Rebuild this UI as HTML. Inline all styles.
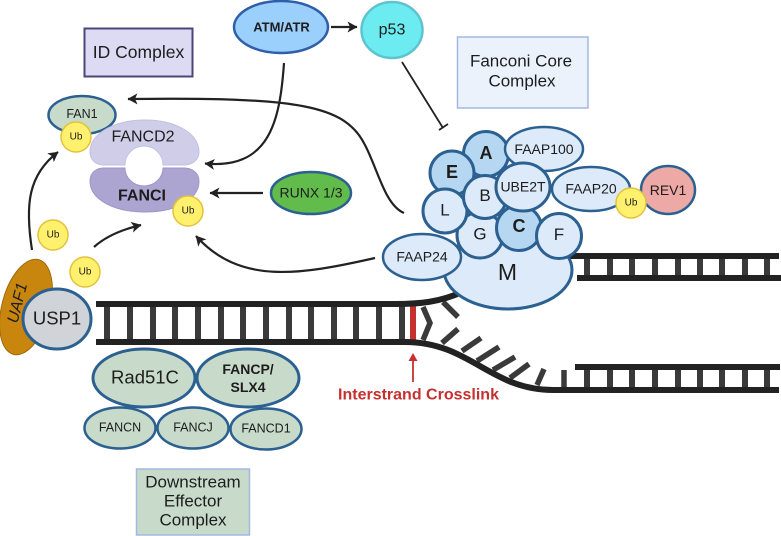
<!DOCTYPE html>
<html><head><meta charset="utf-8"><style>
html,body{margin:0;padding:0;background:#fff}
svg{display:block}
text{font-family:"Liberation Sans",sans-serif;fill:#1d1d1d;text-anchor:middle;dominant-baseline:central}
.b{font-weight:bold}
.s{fill:none;stroke:#222;stroke-width:2.2}
.c{stroke:#2b6090;stroke-width:2.5;fill:#dceafa}
.g{stroke:#2b6090;stroke-width:2.5;fill:#c8dbcb}
.u{fill:#fff06e;stroke:#e2c23c;stroke-width:1.5}
.r{fill:#3a3a3a}
</style></head><body>
<svg width="781" height="536" viewBox="0 0 781 536" xmlns="http://www.w3.org/2000/svg">
<defs><marker id="a" markerUnits="userSpaceOnUse" markerWidth="11" markerHeight="12" refX="9.500" refY="5.500" orient="auto"><path d="M10,5.500 L0,0 L2.500,5.500 L0,11 Z" fill="#222"/></marker></defs>

<!-- boxes -->
<rect x="84.500" y="28.500" width="108" height="48" fill="#dddaf3" stroke="#4b4579" stroke-width="2"/>
<text x="138.500" y="52" font-size="17.500">ID Complex</text>
<rect x="457.500" y="37" width="130.500" height="71" fill="#ebf2fc" stroke="#a3b8e0" stroke-width="1.500"/>
<text x="521" y="61" font-size="17">Fanconi Core</text>
<text x="522" y="81" font-size="17">Complex</text>
<rect x="136.500" y="469" width="113" height="66" fill="#c8dbcb" stroke="#a3b8e0" stroke-width="1.500"/>
<text x="193" y="482" font-size="17">Downstream</text>
<text x="193" y="501" font-size="17">Effector</text>
<text x="193" y="520" font-size="17">Complex</text>

<!-- DNA left -->
<g class="r">
<rect x="104" y="304" width="6" height="38"/><rect x="127" y="304" width="6" height="38"/><rect x="150" y="304" width="6" height="38"/><rect x="172" y="304" width="6" height="38"/><rect x="195" y="304" width="6" height="38"/><rect x="218" y="304" width="6" height="38"/><rect x="240" y="304" width="6" height="38"/><rect x="263" y="304" width="6" height="38"/><rect x="286" y="304" width="6" height="38"/><rect x="308" y="304" width="6" height="38"/><rect x="331" y="304" width="6" height="38"/><rect x="353" y="304" width="6" height="38"/><rect x="376" y="304" width="6" height="38"/><rect x="399" y="304" width="6" height="38"/>
</g>
<rect x="410" y="306" width="6" height="36" fill="#c5312f"/>
<g fill="none" stroke="#3a3a3a" stroke-width="5.500">
<path d="M423,307 L430,323 L423,340"/>
<path d="M443,302 L458,317"/>
<path d="M442,343 L458,329"/>
<path d="M462,351 L481,338"/>
<path d="M477,361 L499,347"/>
<path d="M493,370 L515,357"/>
<path d="M510,378 L529,364"/>
<path d="M537,385 L544,369"/>
<path d="M564,370 L564,390"/>
</g>
<g fill="#3a3a3a">
<rect x="584" y="256" width="6" height="22"/><rect x="607" y="256" width="6" height="22"/><rect x="629" y="256" width="6" height="22"/><rect x="652" y="256" width="6" height="22"/><rect x="675" y="256" width="6" height="22"/><rect x="697" y="256" width="6" height="22"/><rect x="719" y="256" width="6" height="22"/><rect x="742" y="256" width="6" height="22"/><rect x="764" y="256" width="6" height="22"/>
<rect x="584" y="367" width="6" height="23"/><rect x="607" y="367" width="6" height="23"/><rect x="629" y="367" width="6" height="23"/><rect x="652" y="367" width="6" height="23"/><rect x="675" y="367" width="6" height="23"/><rect x="697" y="367" width="6" height="23"/><rect x="719" y="367" width="6" height="23"/><rect x="742" y="367" width="6" height="23"/><rect x="764" y="367" width="6" height="23"/>
</g>
<g fill="none" stroke="#222" stroke-width="6">
<path d="M96,304 L395,304 C420,304 440,302 462,292"/>
<path d="M96,342 L405,342 C470,342 490,390 553,390 L779,390"/>
<path d="M560,256 L779,256"/>
<path d="M577,278 L781,278"/>
<path d="M575,367 L780,367"/>
</g>

<!-- red label -->
<path d="M413,382 L413,358" stroke="#c5312f" stroke-width="1.800" fill="none"/>
<path d="M413,353 L417.500,361 L408.500,361 Z" fill="#c5312f"/>
<text x="418.500" y="395" font-size="16" class="b" style="fill:#c5312f">Interstrand Crosslink</text>

<!-- connectors -->
<path class="s" d="M404,213 C385,205 378,170 365,145 C345,105 300,97 128,99" marker-end="url(#a)"/>
<path class="s" d="M284,63 C280,120 270,170 205,163.500" marker-end="url(#a)"/>
<path class="s" d="M263,193 L210,193" marker-end="url(#a)"/>
<path class="s" d="M375,258 C300,275 240,285 196,236" marker-end="url(#a)"/>
<path class="s" d="M32,250 C25,205 28,175 58,152" marker-end="url(#a)"/>
<path class="s" d="M94,247 C105,237 120,230 141,225" marker-end="url(#a)"/>
<path class="s" d="M331,27 L357,27" marker-end="url(#a)"/>
<path d="M402,62 L443,128 M439,130 L448,124" fill="none" stroke="#222" stroke-width="1.800"/>

<!-- top nodes -->
<ellipse cx="281" cy="27" rx="47" ry="26" fill="#9bcffc" stroke="#2f5fa8" stroke-width="2.500"/>
<text x="281.500" y="27" font-size="13" class="b">ATM/ATR</text>
<ellipse cx="392" cy="30" rx="30.500" ry="28" fill="#6cebf0" stroke="#5fc2cf" stroke-width="2.500"/>
<text x="392" y="30" font-size="16">p53</text>

<!-- ID complex -->
<ellipse cx="82" cy="115" rx="33.500" ry="19" class="g"/>
<text x="82" y="114" font-size="12.500">FAN1</text>
<path d="M90,152 C90,133 115,120 145,120 C175,120 199,133 199,152 C199,160 192,165 184,165 L163,165 A19,19 0 0 0 125,165 L104,165 C96,165 90,160 90,152 Z" fill="#d0cde9" stroke="#c3bfe2" stroke-width="1"/>
<path d="M90,181 C90,200 115,212 145,212 C175,212 199,200 199,181 C199,173 192,168 184,168 L163,168 A19,18 0 0 1 125,168 L104,168 C96,168 90,173 90,181 Z" fill="#aca5d2" stroke="#9d96c8" stroke-width="1"/>
<text x="143" y="137" font-size="16">FANCD2</text>
<text x="142" y="196" font-size="16" class="b">FANCI</text>
<ellipse cx="311" cy="193" rx="40" ry="21" fill="#62bc4c" stroke="#2b6090" stroke-width="2.500"/>
<text x="311" y="192.500" font-size="14">RUNX 1/3</text>
<circle cx="76" cy="137" r="15" class="u"/><text x="76" y="137" font-size="10">Ub</text>
<circle cx="188" cy="211" r="15" class="u"/><text x="188" y="211" font-size="10">Ub</text>
<circle cx="53" cy="235" r="15" class="u"/><text x="53" y="235" font-size="10">Ub</text>
<circle cx="85" cy="272" r="15" class="u"/><text x="85" y="272" font-size="10">Ub</text>

<!-- UAF1 / USP1 -->
<ellipse cx="26" cy="307" rx="24" ry="49" transform="rotate(15 26 307)" fill="#c9860f" stroke="#a0690c" stroke-width="1"/>
<text x="18" y="303" font-size="16" style="font-style:italic" transform="rotate(-76 18 303)">UAF1</text>
<ellipse cx="57" cy="319" rx="34" ry="30" fill="#d0d3d8" stroke="#2b6090" stroke-width="3"/>
<text x="57" y="318" font-size="18.500">USP1</text>

<!-- effector -->
<ellipse cx="144" cy="378" rx="51" ry="29" class="g" style="stroke-width:3"/>
<text x="145" y="377" font-size="18.500">Rad51C</text>
<ellipse cx="248" cy="378" rx="51" ry="29" class="g" style="stroke-width:3"/>
<text x="248" y="369" font-size="14" class="b">FANCP/</text>
<text x="248" y="387" font-size="14" class="b">SLX4</text>
<ellipse cx="120" cy="428" rx="35.500" ry="20.500" class="g"/><text x="120" y="427.500" font-size="12.500">FANCN</text>
<ellipse cx="193" cy="428" rx="35.500" ry="20.500" class="g"/><text x="193" y="427.500" font-size="12.500">FANCJ</text>
<ellipse cx="266" cy="429" rx="35.500" ry="20.500" class="g"/><text x="266" y="428.500" font-size="12.500">FANCD1</text>

<!-- core complex -->
<ellipse cx="508" cy="270" rx="64" ry="39" class="c" style="stroke-width:3"/>
<text x="507.500" y="272" font-size="23">M</text>
<circle cx="486" cy="154" r="22.500" class="c" style="stroke-width:3;fill:#b5d7f2"/>
<text x="486" y="153" font-size="18" class="b">A</text>
<ellipse cx="544" cy="149" rx="39" ry="22" class="c"/>
<text x="544" y="149" font-size="14">FAAP100</text>
<circle cx="452" cy="173" r="22" class="c" style="stroke-width:3;fill:#b5d7f2"/>
<text x="452" y="172" font-size="18" class="b">E</text>
<circle cx="480" cy="235" r="23" class="c" style="stroke-width:3"/>
<text x="480" y="234" font-size="17">G</text>
<circle cx="519" cy="228" r="22.500" class="c" style="stroke-width:3;fill:#b5d7f2"/>
<text x="519" y="226" font-size="18" class="b">C</text>
<circle cx="445" cy="211" r="22" class="c" style="stroke-width:3"/>
<text x="445" y="210" font-size="17">L</text>
<circle cx="485" cy="197" r="21.500" class="c" style="stroke-width:3"/>
<text x="485" y="195.500" font-size="17">B</text>
<ellipse cx="523" cy="187" rx="27" ry="24" class="c" style="stroke-width:3"/>
<text x="523" y="186.500" font-size="14">UBE2T</text>
<circle cx="559" cy="236" r="22.500" class="c" style="stroke-width:3"/>
<text x="559" y="234.500" font-size="17">F</text>
<ellipse cx="422" cy="257" rx="39" ry="23" class="c"/>
<text x="422" y="256.500" font-size="14">FAAP24</text>
<ellipse cx="591" cy="189" rx="39" ry="22" class="c"/>
<text x="591" y="188.500" font-size="14">FAAP20</text>
<ellipse cx="668" cy="190" rx="27" ry="24" fill="#eca9a6" stroke="#2b6090" stroke-width="2.500"/>
<text x="668" y="190" font-size="14">REV1</text>
<circle cx="631" cy="203" r="15" class="u"/><text x="631" y="203" font-size="10">Ub</text>
</svg>
</body></html>
